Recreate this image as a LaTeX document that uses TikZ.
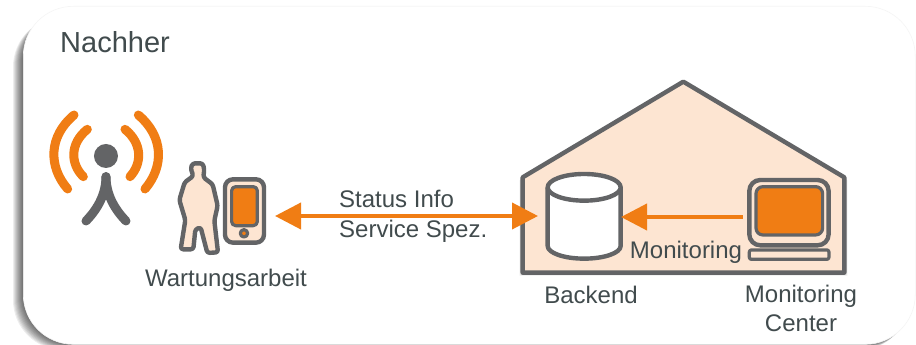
\documentclass[tikz,border=0pt]{standalone}
\usepackage{fontspec}
\setmainfont{Liberation Sans}
\usetikzlibrary{arrows.meta}
\definecolor{ogray}{HTML}{636466}
\definecolor{oorange}{HTML}{F07D14}
\definecolor{opeach}{HTML}{FDE5D2}
\definecolor{otext}{HTML}{414B4D}
\tikzset{
  lbl/.style={text=otext,inner sep=0pt,align=center,font=\fontsize{24}{29}\selectfont},
  flow/.style={draw=oorange,line width=4pt},
  thick gray/.style={draw=ogray,line width=4.4pt,line join=round},
  thin gray/.style={draw=ogray,line width=3.2pt,line join=round},
  wave/.style={draw=oorange,line width=9pt,line cap=round},
  body/.style={draw=ogray,line width=9pt,line cap=round},
  panelbox/.style={rounded corners=50pt},
  figure outline/.style={rounded corners=2.5pt},
}
\newcommand{\figpath}{(68,40) -- (98,40) -- (103,58) -- (100,82) -- (128,103) -- (143,167) -- (133,212) -- (144,307) -- (112,309) -- (92,232) -- (76,238) -- (70,298) -- (32,298) -- (46,210) -- (28,150) -- (44,97) -- (70,78) -- (62,55) -- cycle}
\begin{document}
\begin{tikzpicture}[x=1pt,y=-1pt]
\useasboundingbox (0,0) rectangle (916,345);
\fill[white] (0,0) rectangle (916,345);
% panel shadow
\begin{scope}
\clip (0,0) rectangle (916,345);
\foreach \o in {10,9,8,7,6,5,4,3,2,1}{
  \fill[black,opacity=.07,panelbox] (23-\o,12+\o*.5) rectangle (915-\o*.6,344+\o*.6);
}
\end{scope}
\node[draw=black!4,fill=white,line width=.6pt,rounded corners=50pt,minimum width=892pt,minimum height=338pt,anchor=north west,inner sep=0pt] (panel) at (23,6) {};
\node[text=otext,inner sep=0pt,anchor=base west,font=\fontsize{29}{32}\selectfont] (title) at (60,53) {Nachher};
% antenna
\begin{scope}[shift={(20,80)},x=.3333pt,y=-.3333pt]
\path[wave] (162,105) .. controls (85,170) and (85,260) .. (143,327);
\path[wave] (202,148) .. controls (150,190) and (150,250) .. (190,290);
\path[wave] (355,105) .. controls (432,170) and (432,260) .. (375,327);
\path[wave] (315,148) .. controls (367,190) and (367,250) .. (330,290);
\fill[ogray] (258,228) circle[radius=36];
\path[body] (258,290) .. controls (258,340) and (235,385) .. (198,423);
\path[body] (258,290) .. controls (258,340) and (281,385) .. (318,423);
% phone
\draw[fill=opeach,thick gray,rounded corners=8pt] (615,298) rectangle (732,488);
\draw[fill=oorange,thin gray,rounded corners=4pt] (635,320) rectangle (712,437);
\draw[fill=oorange,thin gray] (672,460) circle[radius=11];
\end{scope}
% person
\begin{scope}[shift={(170,150)},x=.3333pt,y=-.3333pt]
\begin{scope}[shift={(1.5pt,1.5pt)}]
\fill[black,opacity=.12,figure outline] \figpath;
\end{scope}
\draw[fill=opeach,thick gray,figure outline] \figpath;
\end{scope}
% house
\begin{scope}[shift={(500,70)},x=.3333pt,y=-.3333pt]
\foreach \o in {9,6,3}{
\fill[black,opacity=.08] (550,35+\o) -- (1033+\o,322+\o) -- (1033+\o,608+\o) -- (68-\o,608+\o) -- (68-\o,322+\o) -- cycle;}
\draw[fill=opeach,thick gray] (550,35) -- (1033,322) -- (1033,608) -- (68,608) -- (68,322) -- cycle;
\draw[fill=white,thick gray] (143,352) -- (143,528) arc[start angle=180,end angle=0,x radius=109.5,y radius=38] -- (362,352);
\draw[fill=white,thick gray] (252.5,352) ellipse[x radius=109.5,y radius=40];
\draw[fill=opeach,thick gray,rounded corners=11pt] (748,330) rectangle (986,526);
\draw[fill=oorange,thin gray,rounded corners=7pt] (768,350) rectangle (968,495);
\draw[fill=opeach,thin gray,rounded corners=2pt] (748,540) rectangle (987,568);
\end{scope}
% labels
\node[lbl,anchor=base] (wart) at (226,286) {Wartungsarbeit};
\node[lbl,anchor=base west,align=left] (status) at (339,207) {Status Info};
\node[lbl,anchor=base west,align=left] (spez) at (339,237) {Service Spez.};
\node[lbl,anchor=base] (mon) at (686,258) {Monitoring};
\node[lbl,anchor=base] (backend) at (591,303) {Backend};
\node[lbl,anchor=base] (moncenter) at (801,302) {Monitoring};
\node[lbl,anchor=base] (center) at (801,331) {Center};
% connector anchors
\coordinate (wl) at (275,216);
\coordinate (wr) at (538,216);
\coordinate (bl) at (621,217);
\coordinate (br) at (743,217);
\draw[flow,{Triangle[length=26pt,width=26pt]}-{Triangle[length=26pt,width=26pt]}] (wl) -- (wr);
\draw[flow,{Triangle[length=26pt,width=26pt]}-] (bl) -- (br);
\end{tikzpicture}
\end{document}
